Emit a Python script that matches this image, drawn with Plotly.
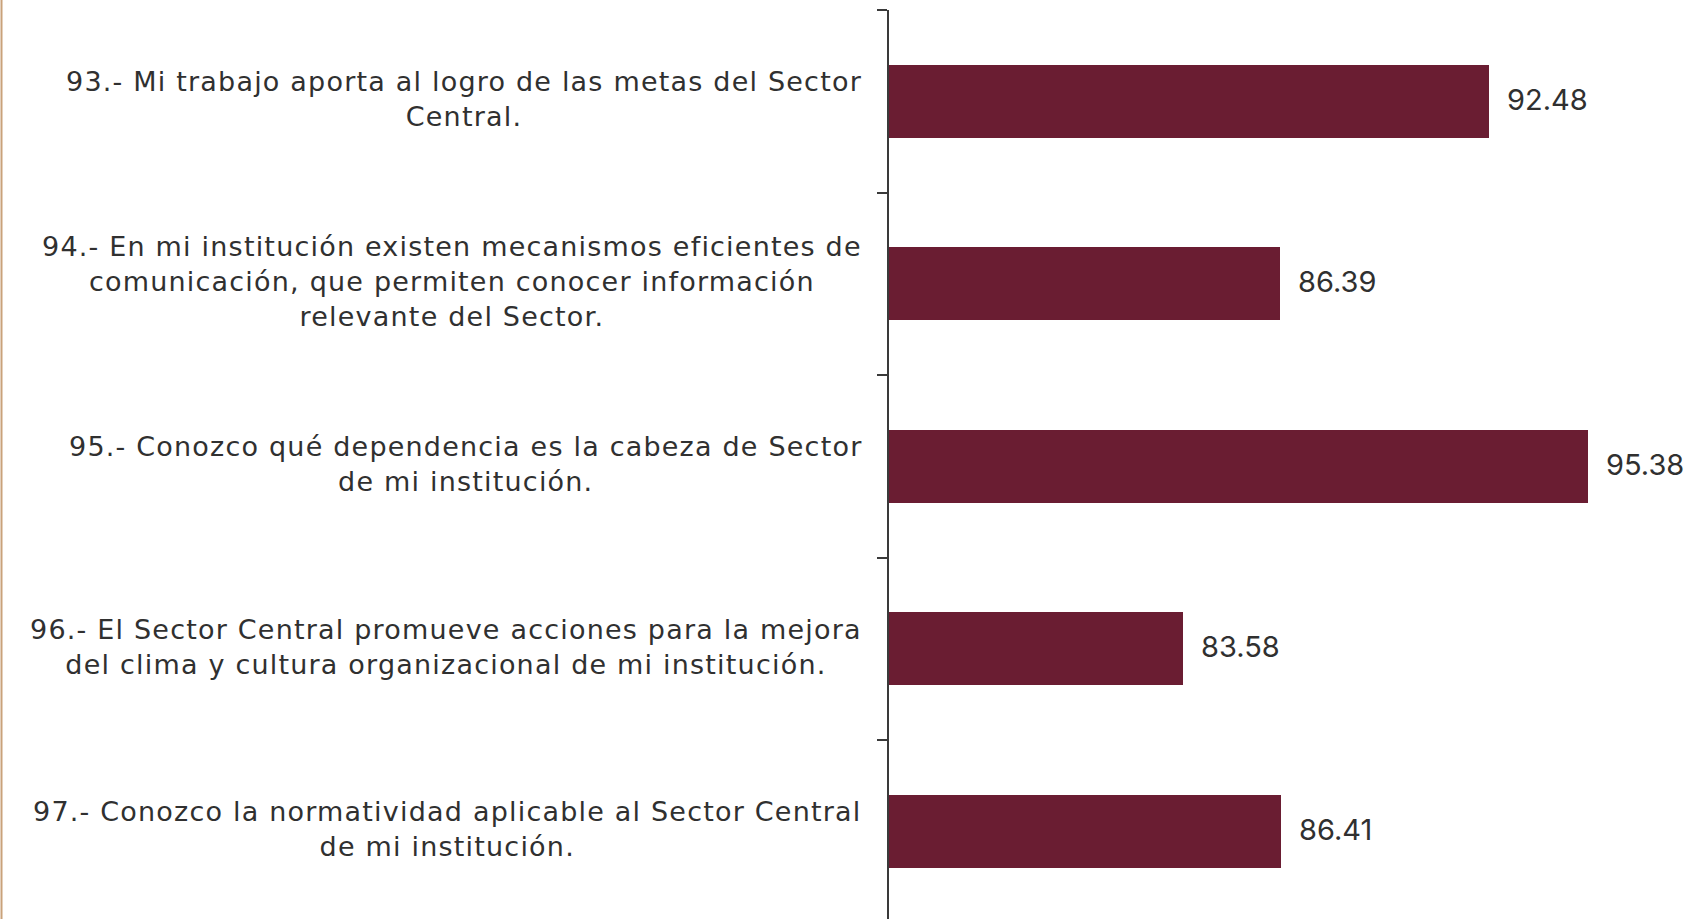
import plotly.graph_objects as go

# Reactivos 93-97: porcentaje de respuestas favorables
item_ids = ["R93", "R94", "R95", "R96", "R97"]
item_lines = [
    ["93.- Mi trabajo aporta al logro de las metas del Sector", "Central."],
    ["94.- En mi institución existen mecanismos eficientes de",
     "comunicación, que permiten conocer información", "relevante del Sector."],
    ["95.- Conozco qué dependencia es la cabeza de Sector", "de mi institución."],
    ["96.- El Sector Central promueve acciones para la mejora",
     "del clima y cultura organizacional de mi institución."],
    ["97.- Conozco la normatividad aplicable al Sector Central", "de mi institución."],
]
scores = [92.48, 86.39, 95.38, 83.58, 86.41]

BAR_COLOR = "#6a1d32"
TEXT_COLOR = "#303030"
LABEL_FONT = "DejaVu Sans"
VALUE_FONT = "Inter"

W, H = 1688, 919
ML, MR, MT, MB = 889, 0, 10, 0
plot_w = W - ML - MR


def spaced(lines, spacing="1.2px"):
    return "<br>".join(
        f"<span style='letter-spacing:{spacing}'>{ln}</span>" for ln in lines
    )


fig = go.Figure(
    go.Bar(
        x=scores,
        y=item_ids,
        orientation="h",
        width=0.4,
        marker=dict(color=BAR_COLOR, line=dict(width=0)),
        hoverinfo="skip",
    )
)

annotations = []
# Item texts, centred on each category to the left of the axis
for cid, lines in zip(item_ids, item_lines):
    annotations.append(dict(
        x=0, xref="paper", y=cid, yref="y",
        text=spaced(lines), showarrow=False, xanchor="right", yanchor="middle",
        align="center", xshift=-25, yshift=2,
        font=dict(family=LABEL_FONT, size=27, color=TEXT_COLOR),
    ))
# Value labels next to each bar end
for cid, v in zip(item_ids, scores):
    annotations.append(dict(
        x=v, xref="x", y=cid, yref="y",
        text=f"{v:.2f}", showarrow=False, xanchor="left", yanchor="middle",
        xshift=16, yshift=2,
        font=dict(family=VALUE_FONT, size=29, color=TEXT_COLOR),
    ))

fig.update_layout(
    width=W, height=H,
    margin=dict(l=ML, r=MR, t=MT, b=MB, pad=0),
    paper_bgcolor="white", plot_bgcolor="white",
    showlegend=False,
    bargap=0,
    annotations=annotations,
    xaxis=dict(
        range=[75, 98.28], visible=False, fixedrange=True,
    ),
    yaxis=dict(
        type="category",
        categoryorder="array", categoryarray=item_ids,
        range=[4.48, -0.5],
        showticklabels=False,
        showgrid=False, zeroline=False,
        showline=True, linecolor="#3a3a3a", linewidth=1.5,
        ticks="outside", tickson="boundaries", ticklen=10,
        tickcolor="#3a3a3a", tickwidth=1.5,
        fixedrange=True,
    ),
    shapes=[dict(
        type="line", xref="paper", yref="paper",
        x0=(1.5 - ML) / plot_w, x1=(1.5 - ML) / plot_w,
        y0=-0.05, y1=1.05,
        line=dict(color="#c9a27a", width=2),
    )],
)

fig.write_html("out.html", config={"displayModeBar": False})
